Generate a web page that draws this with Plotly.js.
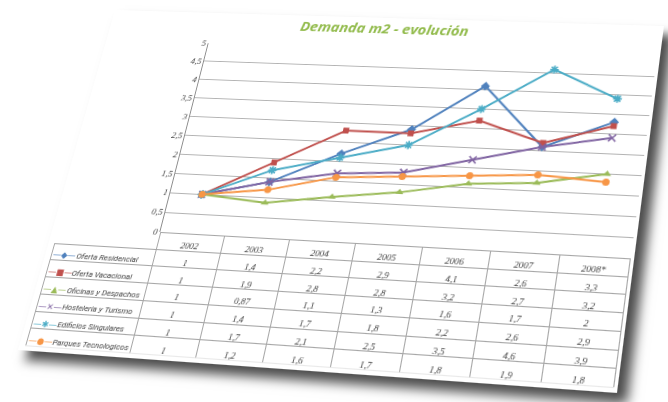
<!DOCTYPE html>
<html>
<head>
<meta charset="utf-8">
<script src="https://cdn.plot.ly/plotly-3.0.1.min.js"></script>
<style>
html,body{margin:0;padding:0;background:#ffffff;overflow:hidden;width:668px;height:402px;}
#card{position:absolute;left:0;top:0;width:570px;height:355px;background:#fff;transform-origin:0 0;
  box-shadow:10px 9px 10px rgba(0,0,0,0.7);}
#chart{width:570px;height:355px;}
</style>
</head>
<body>
<div id="card"><div id="chart"></div></div>
<script>
// ---- data ----
const categories = ['2002','2003','2004','2005','2006','2007','2008*'];
const seriesNames = ['Oferta Residencial','Oferta Vacacional','Oficinas y Despachos','Hosteleria y Turismo','Edificios Singulares','Parques Tecnologicos'];
const ofertaResidencial   = [1, 1.4, 2.2, 2.9, 4.1, 2.6, 3.3];
const ofertaVacacional    = [1, 1.9, 2.8, 2.8, 3.2, 2.7, 3.2];
const oficinasDespachos   = [1, 0.87, 1.1, 1.3, 1.6, 1.7, 2];
const hosteleriaTurismo   = [1, 1.4, 1.7, 1.8, 2.2, 2.6, 2.9];
const edificiosSingulares = [1, 1.7, 2.1, 2.5, 3.5, 4.6, 3.9];
const parquesTecnologicos = [1, 1.2, 1.6, 1.7, 1.8, 1.9, 1.8];
const chartTitle = 'Demanda m2 - evolución';

// ---- styles ----
const allSeries = [ofertaResidencial, ofertaVacacional, oficinasDespachos, hosteleriaTurismo, edificiosSingulares, parquesTecnologicos];
const colors  = ['#4F81BD','#C0504D','#9BBB59','#8064A2','#4BACC6','#F79646'];
const symbols = ['diamond','square','triangle-up','x-thin-open','asterisk-open','circle'];
const glyphs  = ['◆','■','▲','✕','✱','●'];

const traces = allSeries.map((vals, i) => ({
  type:'scatter', mode:'lines+markers', name:seriesNames[i],
  x:categories, y:vals, xaxis:'x', yaxis:'y',
  line:{color:colors[i], width:2},
  marker:{symbol:symbols[i], size:(i===1?6:7), color:colors[i], line:{color:colors[i], width:(symbols[i].indexOf('open')>=0?1.6:0)}},
  showlegend:false, hoverinfo:'skip'
}));

const NBSP = '\u00A0';
const fmt = v => String(v).replace('.', ',');
const dataCols = categories.map((c, j) => allSeries.map(s => fmt(s[j])));
const nameCol = seriesNames.map(n => NBSP.repeat(9) + n.split(' ').join(NBSP));
const keyCol = glyphs.map(g => '—' + g + '—');

const tableTop = 0.343, tableBottom = 0.012;
const nRows = seriesNames.length + 1;
const rowH = (tableTop - tableBottom) * 355 / nRows;
const tableFont = {family:'Liberation Serif, serif', size:9, color:'#404040', style:'italic'};
const legendFont = {family:'Roboto, sans-serif', size:8, color:'#404040', style:'italic'};

// main data table (first column holds the series names)
traces.push({
  type:'table',
  domain:{x:[0.012,0.995], y:[tableBottom, tableTop]},
  columnwidth:[0.183,0.1143,0.1143,0.1143,0.1143,0.1143,0.1143,0.1143],
  header:{
    values:[''].concat(categories),
    height:rowH,
    align:'center',
    fill:{color:['rgba(0,0,0,0)'].concat(categories.map(()=> '#ffffff'))},
    line:{color:['rgba(0,0,0,0)'].concat(categories.map(()=> '#a6a6a6')), width:1},
    font:tableFont
  },
  cells:{
    values:[nameCol].concat(dataCols),
    height:rowH,
    align:['left'].concat(categories.map(()=> 'center')),
    fill:{color:'#ffffff'},
    line:{color:'#a6a6a6', width:1},
    font:{family:[legendFont.family].concat(categories.map(()=> tableFont.family)),
          size:[legendFont.size].concat(categories.map(()=> tableFont.size)),
          color:'#404040', style:'italic'}
  }
});

// legend keys: transparent one-column table laid over the names column, same row geometry
traces.push({
  type:'table',
  domain:{x:[0.0,0.08], y:[tableBottom, tableTop]},
  columnwidth:[1],
  header:{values:[''], height:rowH, fill:{color:'rgba(0,0,0,0)'}, line:{color:'rgba(0,0,0,0)', width:0}, font:{size:8}},
  cells:{
    values:[keyCol],
    height:rowH,
    align:'left',
    fill:{color:'rgba(0,0,0,0)'},
    line:{color:'rgba(0,0,0,0)', width:0},
    font:{family:'DejaVu Sans, sans-serif', size:8.5, color:[colors]}
  }
});

const layout = {
  width:570, height:355,
  margin:{l:0,r:0,t:0,b:0},
  paper_bgcolor:'#ffffff', plot_bgcolor:'#ffffff',
  separators:',.',
  title:{text:'<b><i>' + chartTitle + '</i></b>', x:0.51, xanchor:'center', y:0.966, yref:'container', yanchor:'middle',
         font:{family:'Open Sans, sans-serif', size:15, color:'#92BB4C'}},
  xaxis:{domain:[0.195,0.995], type:'category', range:[-0.5,6.5], showgrid:false, showticklabels:false, zeroline:false, showline:false, fixedrange:true},
  yaxis:{domain:[tableTop,0.905], range:[0,5], dtick:0.5, tick0:0, showgrid:true, gridcolor:'#b3b3b3', gridwidth:1,
         zeroline:false, showline:true, linecolor:'#8c8c8c', linewidth:1, ticks:'', ticklen:0,
         tickfont:{family:'Liberation Serif, serif', size:9, color:'#404040', style:'italic'}, fixedrange:true},
  showlegend:false
};

Plotly.newPlot('chart', traces, layout, {displayModeBar:false, staticPlot:true});

// ---- perspective mapping of the flat card onto the photographed quadrilateral ----
function homography(W, H, p) {
  const [x0,y0] = p[0], [x1,y1] = p[1], [x2,y2] = p[2], [x3,y3] = p[3];
  const dx1 = x1-x2, dx2 = x3-x2, dx3 = x0-x1+x2-x3;
  const dy1 = y1-y2, dy2 = y3-y2, dy3 = y0-y1+y2-y3;
  const den = dx1*dy2 - dx2*dy1;
  const g = (dx3*dy2 - dx2*dy3)/den, h = (dx1*dy3 - dx3*dy1)/den;
  const a = x1-x0+g*x1, b = x3-x0+h*x3, c = x0;
  const d = y1-y0+g*y1, e = y3-y0+h*y3, f = y0;
  return `matrix3d(${a/W},${d/W},0,${g/W},${b/H},${e/H},0,${h/H},0,0,1,0,${c},${f},0,1)`;
}
const corners = [[115,10],[664,26],[617,393],[18,350]];
document.getElementById('card').style.transform = homography(570, 355, corners);
</script>
</body>
</html>
